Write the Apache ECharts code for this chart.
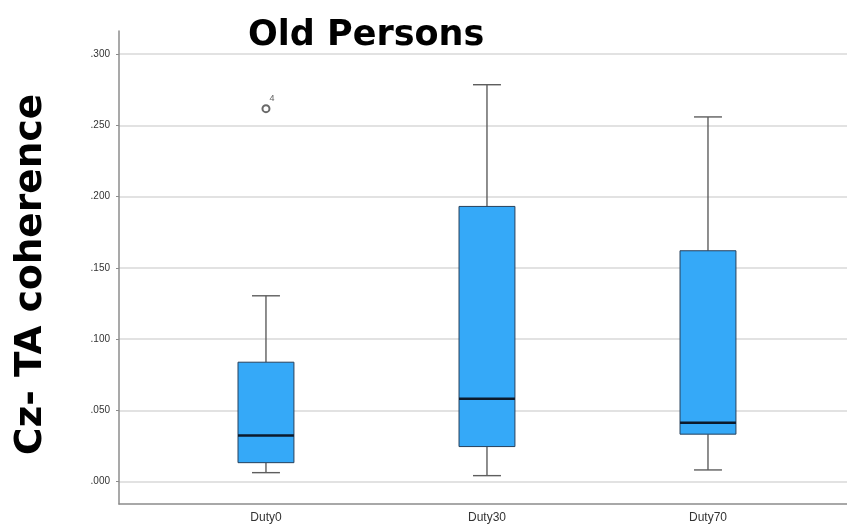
<!DOCTYPE html>
<html>
<head>
<meta charset="utf-8">
<script src="https://cdn.jsdelivr.net/npm/echarts@6/dist/echarts.min.js"></script>
<style>
  html, body { margin: 0; padding: 0; background: #fff; }
  #chart { width: 847px; height: 528px; }
</style>
</head>
<body>
<div id="chart"></div>
<script>
// data
var categories = ["Duty0", "Duty30", "Duty70"];
// [low whisker, Q1, median, Q3, high whisker]
var duty0 = [0.0063, 0.0133, 0.0323, 0.0838, 0.1304];
var duty30 = [0.0042, 0.0246, 0.0581, 0.1931, 0.2785];
var duty70 = [0.0082, 0.0333, 0.0414, 0.1620, 0.2559];
var outlierValues = [[0, 0.2617]];
var outlierIds = ["4"];
var yTicks = [0, 0.05, 0.1, 0.15, 0.2, 0.25, 0.3];

var BOX_W = 0.253; // in category units

var boxData = [duty0, duty30, duty70].map(function (d, i) {
  return [i].concat(d);
});

function renderBox(params, api) {
  var x = api.value(0);
  var lo = api.coord([x, api.value(1)]);
  var q1 = api.coord([x, api.value(2)]);
  var med = api.coord([x, api.value(3)]);
  var q3 = api.coord([x, api.value(4)]);
  var hi = api.coord([x, api.value(5)]);
  var half = api.size([BOX_W, 0])[0] / 2;
  var cap = half / 2;
  var wStyle = { stroke: "#5e5e5e", lineWidth: 1.4 };
  return {
    type: "group",
    children: [
      { type: "line", shape: { x1: lo[0], y1: lo[1], x2: q1[0], y2: q1[1] }, style: wStyle },
      { type: "line", shape: { x1: hi[0], y1: hi[1], x2: q3[0], y2: q3[1] }, style: wStyle },
      { type: "line", shape: { x1: lo[0] - cap, y1: lo[1], x2: lo[0] + cap, y2: lo[1] }, style: wStyle },
      { type: "line", shape: { x1: hi[0] - cap, y1: hi[1], x2: hi[0] + cap, y2: hi[1] }, style: wStyle },
      {
        type: "rect",
        shape: { x: q3[0] - half, y: q3[1], width: half * 2, height: q1[1] - q3[1] },
        style: { fill: "#35a9f8", stroke: "#27415c", lineWidth: 1 }
      },
      {
        type: "line",
        shape: { x1: med[0] - half, y1: med[1], x2: med[0] + half, y2: med[1] },
        style: { stroke: "#0c1a2c", lineWidth: 2.5 }
      }
    ]
  };
}

var chart = echarts.init(document.getElementById("chart"));

var option = {
  animation: false,
  title: {
    text: "Old Persons",
    left: 243,
    top: 13,
    textStyle: {
      fontFamily: "DejaVu Sans",
      fontWeight: "bold",
      fontSize: 35,
      color: "#000"
    }
  },
  grid: {
    left: 119,
    right: 0,
    top: 31,
    bottom: 24
  },
  xAxis: {
    type: "value",
    min: -0.665,
    max: 2.629,
    axisLine: {
      onZero: false,
      lineStyle: { color: "#8c8c8c", width: 1.5 }
    },
    axisTick: { show: false, customValues: [0, 1, 2] },
    splitLine: { show: false },
    axisLabel: {
      customValues: [0, 1, 2],
      formatter: function (v) { return categories[Math.round(v)]; },
      fontFamily: "Liberation Sans",
      fontSize: 12,
      color: "#333",
      margin: 8
    }
  },
  yAxis: {
    type: "value",
    min: -0.0157,
    max: 0.3162,
    name: "Cz- TA coherence",
    nameLocation: "middle",
    nameGap: 69,
    nameTextStyle: {
      fontFamily: "DejaVu Sans",
      fontWeight: "bold",
      fontSize: 37.5,
      color: "#000",
      padding: [0, 14, 0, 0]
    },
    axisLine: {
      show: true,
      onZero: false,
      lineStyle: { color: "#8c8c8c", width: 1.5 }
    },
    axisTick: {
      show: true,
      length: 3,
      customValues: yTicks,
      lineStyle: { color: "#8c8c8c" }
    },
    splitLine: {
      show: true,
      lineStyle: { color: "#d9d9d9", width: 1.5 }
    },
    axisLabel: {
      customValues: yTicks,
      formatter: function (v) { return v.toFixed(3).replace(/^0/, ""); },
      fontFamily: "Liberation Sans",
      fontSize: 10,
      color: "#333",
      margin: 9
    }
  },
  series: [
    {
      type: "custom",
      renderItem: renderBox,
      data: boxData,
      encode: { x: 0, y: [1, 2, 3, 4, 5] },
      z: 3
    },
    {
      type: "scatter",
      data: outlierValues,
      symbol: "emptyCircle",
      symbolSize: 7,
      itemStyle: { color: "#444", borderColor: "#444", borderWidth: 1.2 },
      label: {
        show: true,
        position: [8, -10],
        formatter: function (p) { return outlierIds[p.dataIndex]; },
        fontFamily: "Liberation Sans",
        fontSize: 9,
        color: "#333"
      },
      z: 4
    }
  ]
};

chart.setOption(option);
</script>
</body>
</html>
